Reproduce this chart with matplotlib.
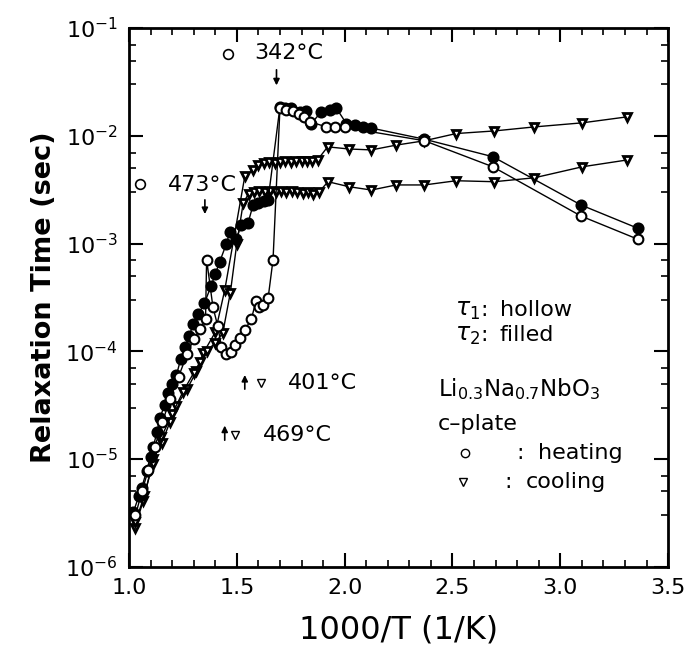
import numpy as np
import matplotlib
matplotlib.use("Agg")
import matplotlib.pyplot as plt
from matplotlib.ticker import LogLocator, MultipleLocator, NullFormatter

# tau1 heating (hollow circles)
h1_x = [1.03, 1.06, 1.09, 1.12, 1.155, 1.19, 1.23, 1.27, 1.30, 1.33, 1.355, 1.36,
        1.389, 1.412, 1.429, 1.45, 1.475, 1.49, 1.514, 1.537, 1.568, 1.588, 1.605,
        1.622, 1.645, 1.668, 1.70, 1.73, 1.76, 1.79, 1.81, 1.84, 1.915, 1.954, 2.0,
        2.37, 2.687, 3.096, 3.358]
h1_y = [3.0e-6, 5.0e-6, 8.0e-6, 1.3e-5, 2.2e-5, 3.6e-5, 5.8e-5, 9.5e-5, 1.3e-4, 1.6e-4, 2.0e-4, 7.1e-4,
        2.6e-4, 1.7e-4, 1.1e-4, 9.5e-5, 9.9e-5, 1.15e-4, 1.32e-4, 1.58e-4, 2.0e-4, 2.9e-4, 2.6e-4,
        2.7e-4, 3.1e-4, 7.1e-4, 1.8e-2, 1.75e-2, 1.7e-2, 1.6e-2, 1.5e-2, 1.35e-2, 1.21e-2, 1.21e-2, 1.2e-2,
        9.0e-3, 5.16e-3, 1.8e-3, 1.1e-3]

# isolated hollow points
iso_x = [1.051, 1.458]
iso_y = [3.57e-3, 5.8e-2]

# tau2 heating (filled circles)
h2_x = [1.02, 1.045, 1.059, 1.082, 1.10, 1.113, 1.13, 1.144, 1.165, 1.182, 1.20, 1.22,
        1.24, 1.259, 1.28, 1.298, 1.321, 1.35, 1.38, 1.40, 1.421, 1.452, 1.468, 1.498,
        1.52, 1.552, 1.576, 1.60, 1.625, 1.645, 1.70, 1.725, 1.753, 1.792, 1.823, 1.846,
        1.891, 1.93, 1.962, 2.008, 2.046, 2.085, 2.124, 2.37, 2.687, 3.096, 3.358]
h2_y = [3.2e-6, 4.5e-6, 5.4e-6, 7.8e-6, 1.05e-5, 1.3e-5, 1.8e-5, 2.4e-5, 3.2e-5, 4.1e-5, 5.0e-5, 6.0e-5,
        8.5e-5, 1.1e-4, 1.4e-4, 1.8e-4, 2.2e-4, 2.8e-4, 4.0e-4, 5.2e-4, 6.8e-4, 1.0e-3, 1.29e-3, 1.1e-3,
        1.5e-3, 1.55e-3, 2.3e-3, 2.4e-3, 2.5e-3, 2.55e-3, 1.85e-2, 1.8e-2, 1.8e-2, 1.67e-2, 1.7e-2, 1.3e-2,
        1.67e-2, 1.75e-2, 1.8e-2, 1.3e-2, 1.26e-2, 1.22e-2, 1.18e-2, 9.3e-3, 6.4e-3, 2.28e-3, 1.39e-3]

# cooling, upper branch
c1_x = [1.028, 1.066, 1.113, 1.151, 1.19, 1.22, 1.27, 1.313, 1.344, 1.40, 1.444, 1.537,
        1.575, 1.60, 1.625, 1.65, 1.675, 1.70, 1.725, 1.75, 1.775, 1.80, 1.825, 1.85,
        1.875, 1.921, 2.019, 2.124, 2.239, 2.37, 2.517, 2.694, 2.880, 3.102, 3.310]
c1_y = [2.3e-6, 4.1e-6, 1.0e-5, 1.4e-5, 2.2e-5, 3.1e-5, 4.5e-5, 6.5e-5, 9.6e-5, 1.5e-4, 3.7e-4, 4.2e-3,
        4.8e-3, 5.4e-3, 5.6e-3, 5.7e-3, 5.6e-3, 5.7e-3, 5.8e-3, 5.7e-3, 5.9e-3, 5.8e-3, 5.9e-3, 5.8e-3,
        6.0e-3, 7.9e-3, 7.55e-3, 7.4e-3, 8.2e-3, 9.0e-3, 1.05e-2, 1.11e-2, 1.21e-2, 1.32e-2, 1.5e-2]

# cooling, lower branch
c2_x = [1.03, 1.07, 1.11, 1.15, 1.20, 1.25, 1.30, 1.33, 1.36, 1.40, 1.435, 1.47, 1.50,
        1.53, 1.555, 1.58, 1.605, 1.63, 1.655, 1.68, 1.705, 1.73, 1.755, 1.78, 1.805,
        1.83, 1.855, 1.88, 1.923, 2.02, 2.124, 2.239, 2.37, 2.517, 2.694, 2.88, 3.102, 3.31]
c2_y = [2.6e-6, 4.5e-6, 9e-6, 1.6e-5, 2.6e-5, 4.2e-5, 6.3e-5, 8e-5, 1.0e-4, 1.2e-4, 1.48e-4, 3.5e-4, 1.0e-3,
        2.4e-3, 2.9e-3, 3.0e-3, 3.1e-3, 3.0e-3, 3.05e-3, 3.0e-3, 3.1e-3, 3.0e-3, 3.05e-3, 3.0e-3, 2.95e-3,
        3.0e-3, 2.9e-3, 3.0e-3, 3.75e-3, 3.37e-3, 3.14e-3, 3.5e-3, 3.5e-3, 3.83e-3, 3.75e-3, 4.08e-3, 5.16e-3, 5.97e-3]

fig = plt.figure(figsize=(6.86, 6.53), dpi=100, facecolor='w')
ax = fig.add_axes([0.188, 0.132, 0.786, 0.825])

lw = 1.0
ax.plot(c1_x, c1_y, '-', color='k', lw=lw, marker='v', ms=6, mfc='w', mec='k', mew=2.0)
ax.plot(c2_x, c2_y, '-', color='k', lw=lw, marker='v', ms=6, mfc='w', mec='k', mew=2.0)
ax.plot(h2_x, h2_y, '-', color='k', lw=lw, marker='o', ms=7.5, mfc='k', mec='k', mew=1.2)
ax.plot(h1_x, h1_y, '-', color='k', lw=lw, marker='o', ms=7, mfc='w', mec='k', mew=1.5)
ax.plot(iso_x, iso_y, 'o', ms=7, mfc='w', mec='k', mew=1.2)

ax.set_yscale('log')
ax.set_xlim(1.0, 3.5)
ax.set_ylim(1e-6, 1e-1)
ax.xaxis.set_major_locator(MultipleLocator(0.5))
ax.xaxis.set_minor_locator(MultipleLocator(0.1))
ax.yaxis.set_major_locator(LogLocator(base=10, numticks=10))
ax.yaxis.set_minor_locator(LogLocator(base=10, subs=[3, 5, 7], numticks=10))
ax.yaxis.set_minor_formatter(NullFormatter())
ax.tick_params(which='both', direction='in', top=True, right=True, labelsize=16)
ax.tick_params(which='major', length=10, width=1.5, pad=8)
ax.tick_params(which='minor', length=5, width=1.2)
for s in ax.spines.values():
    s.set_linewidth(2)

ax.set_xlabel('1000/T (1/K)', fontsize=23, labelpad=12)
ax.set_ylabel('Relaxation Time (sec)', fontsize=19.5, fontweight='bold', labelpad=6)

# annotations
fs = 16
ax.text(1.583, 0.0586, '342°C', fontsize=fs, ha='left', va='center')
ax.annotate('', xy=(1.684, 0.0277), xytext=(1.684, 0.0435),
            arrowprops=dict(arrowstyle='-|>', color='k', lw=1.2, mutation_scale=9))
ax.text(1.181, 3.5e-3, '473°C', fontsize=fs, ha='left', va='center')
ax.annotate('', xy=(1.352, 1.77e-3), xytext=(1.352, 2.7e-3),
            arrowprops=dict(arrowstyle='-|>', color='k', lw=1.2, mutation_scale=9))

ax.annotate('', xy=(1.537, 6.4e-5), xytext=(1.537, 4.2e-5),
            arrowprops=dict(arrowstyle='-|>', color='k', lw=1.2, mutation_scale=9))
ax.plot([1.614], [5.06e-5], 'v', ms=6, mfc='w', mec='k', mew=1.0)
ax.text(1.736, 5.06e-5, '401°C', fontsize=fs, ha='left', va='center')
ax.annotate('', xy=(1.444, 2.17e-5), xytext=(1.444, 1.41e-5),
            arrowprops=dict(arrowstyle='-|>', color='k', lw=1.2, mutation_scale=9))
ax.plot([1.491], [1.67e-5], 'v', ms=6, mfc='w', mec='k', mew=1.0)
ax.text(1.62, 1.67e-5, '469°C', fontsize=fs, ha='left', va='center')

# key text
t = ax.transAxes
ax.text(0.605, 0.477, r'$\tau_1$', fontsize=17, transform=t, ha='left', va='center')
ax.text(0.652, 0.477, ':', fontsize=fs, transform=t, ha='left', va='center')
ax.text(0.688, 0.477, 'hollow', fontsize=fs, transform=t, ha='left', va='center')
ax.text(0.605, 0.430, r'$\tau_2$', fontsize=17, transform=t, ha='left', va='center')
ax.text(0.652, 0.430, ':', fontsize=fs, transform=t, ha='left', va='center')
ax.text(0.688, 0.430, 'filled', fontsize=fs, transform=t, ha='left', va='center')
ax.text(0.573, 0.330, r'Li$_{0.3}$Na$_{0.7}$NbO$_3$', fontsize=16.5, transform=t, ha='left', va='center')
ax.text(0.573, 0.265, 'c\u2013plate', fontsize=fs, transform=t, ha='left', va='center')
ax.plot([0.623], [0.2115], 'o', ms=6, mfc='w', mec='k', mew=1.0, transform=t)
ax.text(0.718, 0.2115, ':', fontsize=fs, transform=t, ha='left', va='center')
ax.text(0.759, 0.2115, 'heating', fontsize=fs, transform=t, ha='left', va='center')
ax.plot([0.620], [0.158], 'v', ms=6, mfc='w', mec='k', mew=1.0, transform=t)
ax.text(0.697, 0.158, ':', fontsize=fs, transform=t, ha='left', va='center')
ax.text(0.735, 0.158, 'cooling', fontsize=fs, transform=t, ha='left', va='center')

plt.savefig('out.png', dpi=100)
